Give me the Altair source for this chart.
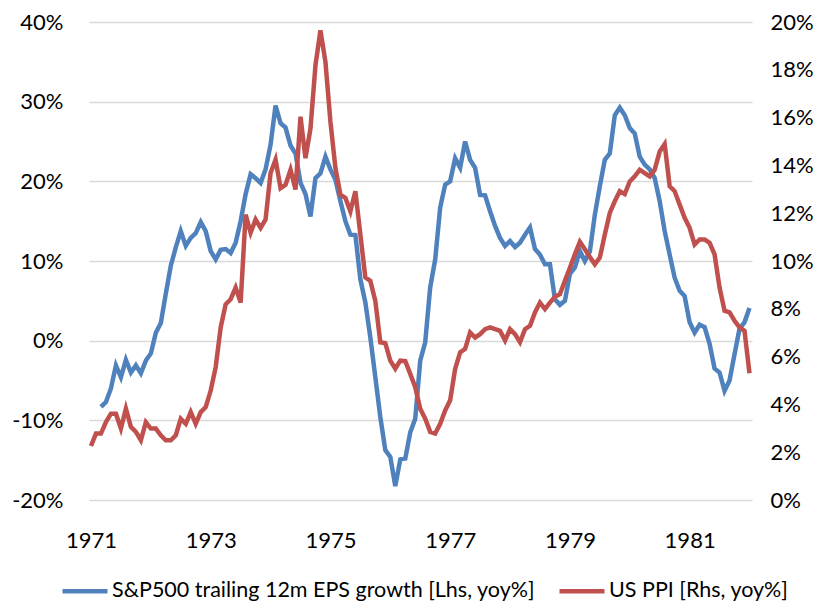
import altair as alt
import pandas as pd

SERIES_EPS = "S&P500 trailing 12m EPS growth [Lhs, yoy%]"
SERIES_PPI = "US PPI [Rhs, yoy%]"

# monthly series; first observation month
eps_start = (1971, 3)
ppi_start = (1971, 1)

eps_growth = [
    -8.3, -7.7, -6.0, -3.1, -4.6, -2.4, -4.0, -3.1, -4.1, -2.5,
    -1.6, 1.0, 2.2, 5.9, 9.4, 11.7, 13.75, 11.9, 12.9, 13.5,
    14.9, 13.75, 11.25, 10.2, 11.4, 11.5, 11.0, 12.3, 15.0, 18.4,
    20.9, 20.4, 19.8, 21.5, 24.6, 29.5, 27.3, 26.75, 24.5, 23.5,
    19.8, 18.4, 15.6, 20.4, 21.0, 23.1, 21.5, 20.2, 17.5, 15.0,
    13.3, 13.25, 7.7, 4.8, 0.4, -4.6, -9.6, -13.75, -14.6, -18.25,
    -14.9, -14.8, -11.5, -9.8, -2.5, -0.2, 6.7, 10.2, 16.7, 19.6,
    20.0, 22.9, 21.7, 25.0, 22.7, 21.7, 18.3, 18.25, 16.25, 14.4,
    12.9, 11.9, 12.5, 11.75, 12.3, 13.3, 14.2, 11.5, 10.8, 9.6,
    9.6, 5.2, 4.5, 5.0, 8.4, 9.2, 11.25, 10.0, 11.2, 15.8,
    19.4, 22.7, 23.5, 28.3, 29.25, 28.3, 26.7, 26.0, 23.1, 22.1,
    21.5, 20.4, 17.5, 13.75, 10.8, 7.9, 6.25, 5.6, 2.3, 1.0,
    2.0, 1.7, -0.4, -3.5, -4.0, -6.3, -5.0, -1.7, 1.5, 2.3,
    4.1,
]

ppi_yoy = [
    2.26, 2.78, 2.78, 3.26, 3.61, 3.61, 2.99, 3.82, 3.06, 2.85,
    2.5, 3.26, 2.99, 2.99, 2.71, 2.5, 2.5, 2.71, 3.4, 3.19,
    3.68, 3.19, 3.68, 3.89, 4.58, 5.56, 7.22, 8.19, 8.4, 8.89,
    8.26, 11.94, 11.18, 11.74, 11.39, 11.74, 13.68, 14.24, 13.05, 13.19,
    13.82, 12.99, 16.04, 14.3, 15.55, 18.19, 19.65, 18.33, 15.83, 13.89,
    12.78, 12.64, 12.08, 12.92, 11.11, 9.31, 9.17, 8.33, 6.6, 6.56,
    5.83, 5.49, 5.83, 5.81, 5.28, 4.72, 3.82, 3.4, 2.85, 2.78,
    3.19, 3.75, 4.17, 5.49, 6.18, 6.32, 7.01, 6.8, 6.94, 7.15,
    7.22, 7.15, 7.08, 6.67, 7.15, 6.94, 6.6, 7.15, 7.29, 7.85,
    8.26, 7.99, 8.26, 8.5, 8.61, 9.17, 9.72, 10.28, 10.8, 10.49,
    10.17, 9.86, 10.14, 11.11, 12.01, 12.5, 12.92, 12.8, 13.33, 13.54,
    13.82, 13.68, 13.54, 13.82, 14.58, 14.89, 13.13, 12.92, 12.36, 11.81,
    11.39, 10.69, 10.9, 10.9, 10.76, 10.28, 8.89, 7.92, 7.85, 7.5,
    7.22, 7.08, 5.3,
]

year_ticks = [1971, 1973, 1975, 1977, 1979, 1981]
lhs_ticks = [-20, -10, 0, 10, 20, 30, 40]
rhs_ticks = [0, 2, 4, 6, 8, 10, 12, 14, 16, 18, 20]
x_domain = [1970.967, 1982.042]

BLUE = "#4F81BD"
RED = "#C0504D"
FONT = "Lato"
FS = 22


def to_frame(start, values, name):
    y0, m0 = start
    t = [y0 + (m0 - 1 + i) / 12 for i in range(len(values))]
    return pd.DataFrame({"t": t, "v": values, "series": name})


df_eps = to_frame(eps_start, eps_growth, SERIES_EPS)
df_ppi = to_frame(ppi_start, ppi_yoy, SERIES_PPI)

x_enc = alt.X(
    "t:Q",
    scale=alt.Scale(domain=x_domain, nice=False, zero=False),
    axis=alt.Axis(values=year_ticks, format="d", grid=False, domain=False,
                  ticks=False, tickSize=0, labelPadding=30, title=None),
)

legend = alt.Legend(
    orient="none", legendX=-29, legendY=544, direction="horizontal",
    title=None, symbolType="stroke", symbolSize=2025, symbolStrokeWidth=4.5,
    labelFont=FONT, labelFontSize=21.5, labelColor="black", labelOffset=2,
    columnPadding=14, padding=0, labelLimit=600,
)

color_enc = alt.Color(
    "series:N",
    scale=alt.Scale(domain=[SERIES_EPS, SERIES_PPI], range=[BLUE, RED]),
    legend=legend,
)

eps_line = alt.Chart(df_eps).mark_line(strokeWidth=4.5).encode(
    x=x_enc,
    y=alt.Y(
        "v:Q",
        scale=alt.Scale(domain=[-20, 40], nice=False, zero=False),
        axis=alt.Axis(values=lhs_ticks, labelExpr="datum.value + '%'",
                      grid=True, gridColor="#D9D9D9", gridWidth=1.5,
                      domain=False, ticks=False, tickSize=0, labelPadding=26,
                      orient="left", title=None),
    ),
    color=color_enc,
)

ppi_line = alt.Chart(df_ppi).mark_line(strokeWidth=4.5).encode(
    x=x_enc,
    y=alt.Y(
        "v:Q",
        scale=alt.Scale(domain=[0, 20], nice=False, zero=False),
        axis=alt.Axis(values=rhs_ticks, labelExpr="datum.value + '%'",
                      grid=False, domain=False, ticks=False, tickSize=0,
                      labelPadding=18, orient="right", title=None),
    ),
    color=color_enc,
)

chart = (
    alt.layer(eps_line, ppi_line)
    .resolve_scale(y="independent")
    .properties(
        width=663, height=478,
        autosize=alt.AutoSizeParams(type="none"),
        padding={"left": 81, "top": 14, "right": 63, "bottom": 104},
    )
    .configure_view(stroke=None)
    .configure_axis(labelFont=FONT, labelFontSize=FS, labelColor="black")
)

chart.save("out.html", embed_options={"renderer": "svg", "actions": False})
